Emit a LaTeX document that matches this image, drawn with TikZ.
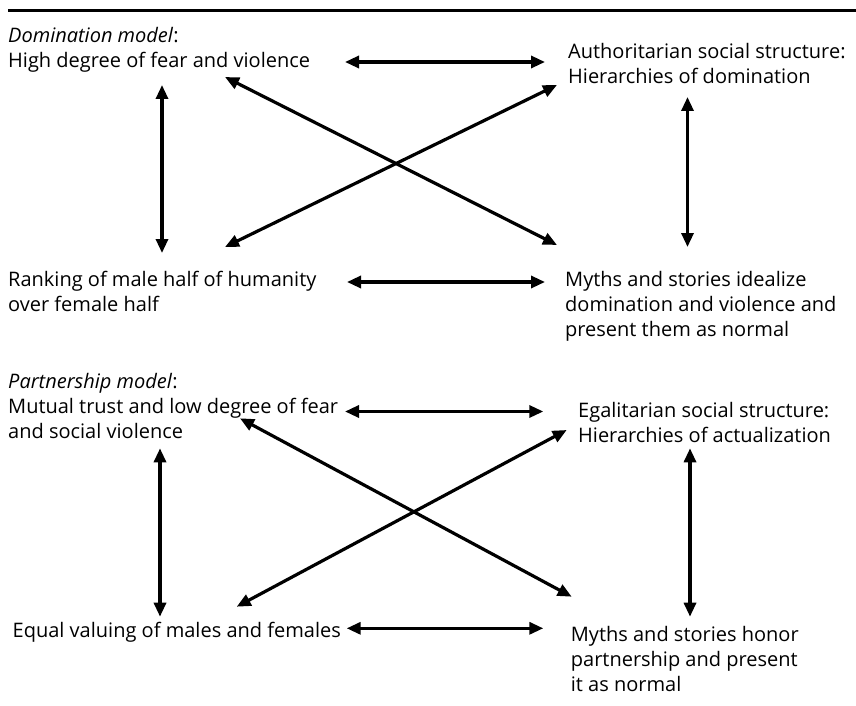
\documentclass[tikz,border=0pt]{standalone}
\usepackage{fontspec}
\setmainfont{Open Sans}
\usetikzlibrary{arrows.meta}
\begin{document}
\begin{tikzpicture}[x=1pt,y=-1pt,
  txt/.style={anchor=base west, inner sep=0pt, align=left, font=\fontsize{20}{25}\selectfont},
  dbl/.style={line width=3.2pt, {Triangle[length=14pt,width=12pt]}-{Triangle[length=14pt,width=12pt]}}]
\useasboundingbox (0,0) rectangle (856,706);
\coordinate (rl) at (8,10.7);
\coordinate (rr) at (856,10.7);
\draw[line width=3pt] (rl) -- (rr);
% Domination model (multi-line nodes are placed by the baseline of their last line)
\node[txt] (dlab) at (8,42.7) {\textit{Domination model}:};
\node[txt] (d1) at (8,67.7) {High degree of fear and violence};
\node[txt] (d2) at (568,83.3) {Authoritarian social structure:\\Hierarchies of domination};
\node[txt] (d3) at (8,311.7) {Ranking of male half of humanity\\over female half};
\node[txt] (d4) at (565,336.7) {Myths and stories idealize\\domination and violence and\\present them as normal};
\coordinate (d12a) at (345,62);   \coordinate (d12b) at (545,62);
\coordinate (d13a) at (162,85);   \coordinate (d13b) at (162,253);
\coordinate (d24a) at (687.5,97); \coordinate (d24b) at (687.5,247);
\coordinate (d14a) at (225,77);   \coordinate (d14b) at (557,245);
\coordinate (d23a) at (557,85);   \coordinate (d23b) at (225,247);
\coordinate (d34a) at (347,282);  \coordinate (d34b) at (545,282);
\draw[dbl] (d12a) -- (d12b);
\draw[dbl] (d13a) -- (d13b);
\draw[dbl] (d24a) -- (d24b);
\draw[dbl] (d14a) -- (d14b);
\draw[dbl] (d23a) -- (d23b);
\draw[dbl] (d34a) -- (d34b);
% Partnership model
\node[txt] (plab) at (8,388.3) {\textit{Partnership model}:};
\node[txt] (p1) at (8,438) {Mutual trust and low degree of fear\\and social violence};
\node[txt] (p2) at (578,442) {Egalitarian social structure:\\Hierarchies of actualization};
\node[txt] (p3) at (12.5,637.3) {Equal valuing of males and females};
\node[txt] (p4) at (570.7,691) {Myths and stories honor\\partnership and present\\it as normal};
\coordinate (p12a) at (345,411.5);  \coordinate (p12b) at (543.3,411.5);
\coordinate (p13a) at (160,448.3);  \coordinate (p13b) at (160,616.7);
\coordinate (p24a) at (690,448.3);  \coordinate (p24b) at (690,616.7);
\coordinate (p14a) at (240,418.3);  \coordinate (p14b) at (571.7,596.7);
\coordinate (p23a) at (566.7,430);  \coordinate (p23b) at (236.7,606.7);
\coordinate (p34a) at (346.7,628.3);\coordinate (p34b) at (543.3,628.3);
\draw[dbl] (p12a) -- (p12b);
\draw[dbl] (p13a) -- (p13b);
\draw[dbl] (p24a) -- (p24b);
\draw[dbl] (p14a) -- (p14b);
\draw[dbl] (p23a) -- (p23b);
\draw[dbl] (p34a) -- (p34b);
\end{tikzpicture}
\end{document}
